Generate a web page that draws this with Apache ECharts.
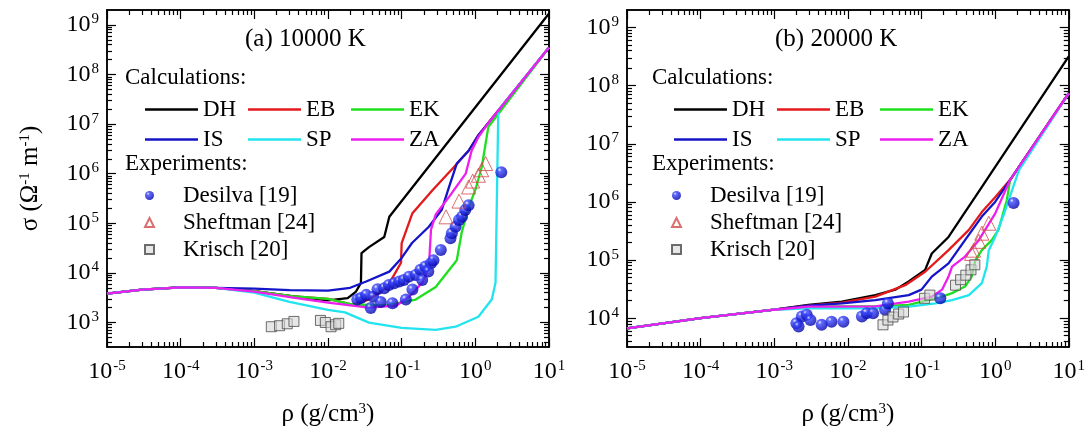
<!DOCTYPE html>
<html>
<head>
<meta charset="utf-8">
<script src="https://cdn.jsdelivr.net/npm/echarts@6/dist/echarts.min.js"></script>
<style>
html, body { margin: 0; background: #fff; }
#chart { width: 1088px; height: 436px; }
</style>
</head>
<body>
<div id="chart"></div>
<script>
const FONT = 'Liberation Serif'

// axis ranges and tick values
const xMajor = [1e-5, 1e-4, 1e-3, 1e-2, 1e-1, 1, 10]
const yMajorA = [1e3, 1e4, 1e5, 1e6, 1e7, 1e8, 1e9]
const yMajorB = [1e4, 1e5, 1e6, 1e7, 1e8, 1e9]
const minorSteps = [2, 3, 4, 5, 6, 7, 8, 9]

// (a) 10000 K — [rho, sigma]
const headA = [[1e-5, 3.8e3], [3e-5, 4.6e3], [1e-4, 5.1e3], [3e-4, 5.0e3]]
const dhA = [[1e-3, 4.3e3], [3.2e-3, 3.4e3], [1e-2, 2.8e3], [1.85e-2, 3.1e3], [2.4e-2, 4.2e3], [2.8e-2, 6.3e3],
  [2.85e-2, 2.5e4], [3.6e-2, 3.3e4], [5.8e-2, 5.3e4], [6.8e-2, 1.35e5], [10, 1.7e9]]
const ebA = [[1e-3, 4.3e3], [3.2e-3, 3.4e3], [1e-2, 3.0e3], [2.15e-2, 2.3e3], [3.6e-2, 2.9e3], [6.2e-2, 5.0e3],
  [7.9e-2, 9.1e3], [9.8e-2, 1.6e4], [0.10, 4.0e4], [0.14, 1.6e5], [0.26, 4.6e5], [0.51, 1.35e6],
  [0.81, 2.9e6], [1.1, 6.0e6], [1.5, 1.05e7], [10, 3.5e8]]
const ekA = [[1e-3, 4.3e3], [3.2e-3, 3.4e3], [1e-2, 3.0e3], [2.15e-2, 2.3e3], [6.2e-2, 2.2e3], [0.155, 2.9e3],
  [0.29, 5.2e3], [0.56, 1.8e4], [0.65, 6.3e4], [0.81, 2.1e5], [1.0, 4.7e5], [1.22, 1.35e6],
  [1.5, 8.7e6], [10, 3.5e8]]
const isA = [[1e-3, 4.8e3], [3e-3, 4.5e3], [1e-2, 4.4e3], [2e-2, 5.0e3], [3.3e-2, 6.7e3], [6.8e-2, 1.06e4],
  [0.10, 2.0e4], [0.138, 4.0e4], [0.234, 8.5e4], [0.35, 1.87e5], [0.44, 5.4e5], [0.56, 1.6e6],
  [0.81, 2.9e6], [1.1, 6.0e6], [1.5, 1.05e7], [10, 3.5e8]]
const spA = [[1e-3, 4.0e3], [3e-3, 2.6e3], [1e-2, 1.8e3], [1.7e-2, 1.6e3], [3.6e-2, 9.9e2], [0.10, 7.8e2],
  [0.29, 7.1e2], [0.54, 8.2e2], [1.1, 1.3e3], [1.67, 2.9e3], [1.88, 6.3e3], [2.05, 1.9e7], [10, 3.5e8]]
const zaA = [[1e-3, 4.2e3], [3.2e-3, 3.2e3], [1e-2, 2.5e3], [3.6e-2, 2.0e3], [8.5e-2, 2.2e3], [0.126, 3.3e3],
  [0.19, 6.3e3], [0.234, 1.3e4], [0.25, 7.4e4], [0.29, 1.5e5], [0.44, 3.4e5], [0.74, 1.0e6],
  [0.89, 2.9e6], [1.1, 5.5e6], [1.5, 1.05e7], [10, 3.5e8]]
const desilvaA = [[2.5e-2, 2.9e3], [2.8e-2, 3.1e3], [3.3e-2, 3.6e3], [4.1e-2, 3.3e3], [4.7e-2, 4.7e3],
  [5.8e-2, 4.9e3], [6.7e-2, 5.7e3], [7.9e-2, 6.2e3], [9.3e-2, 6.7e3], [0.107, 7.2e3], [0.126, 8.4e3],
  [0.155, 9.1e3], [0.18, 1.15e4], [0.21, 1.34e4], [0.25, 1.57e4], [0.27, 1.8e4], [0.34, 2.9e4],
  [0.46, 5.0e4], [0.48, 6.3e4], [0.54, 8.5e4], [0.6, 1.17e5], [0.66, 1.36e5], [0.73, 1.86e5],
  [0.81, 2.3e5], [3.8e-2, 1.95e3], [5.2e-2, 2.6e3], [7.5e-2, 2.45e3], [0.114, 2.9e3], [0.14, 4.6e3],
  [0.19, 7.2e3], [0.23, 1.07e4], [2.25, 1.07e6]]
const sheftmanA = [[1.38, 1.6e6], [1.22, 1.2e6], [1.1, 9.3e5], [0.92, 7.1e5], [0.81, 5.4e5], [0.6, 2.8e5], [0.4, 1.35e5]]
const krischA = [[1.7e-3, 8.2e2], [2.2e-3, 8.6e2], [2.8e-3, 9.4e2], [3.45e-3, 1.05e3],
  [7.9e-3, 1.1e3], [9.2e-3, 1.0e3], [1.1e-2, 8.2e2], [1.27e-2, 9.0e2], [1.4e-2, 9.6e2]]

// (b) 20000 K
const headB = [[1e-5, 6.7e3], [1e-4, 1.0e4], [1e-3, 1.4e4]]
const dhB = [[2.9e-3, 1.7e4], [8.3e-3, 1.93e4], [2.36e-2, 2.5e4], [4.4e-2, 3.1e4], [6.7e-2, 4.3e4],
  [0.112, 6.8e4], [0.138, 1.3e5], [0.233, 2.5e5], [0.355, 5.6e5], [0.54, 1.23e6], [10, 3.2e8]]
const ebB = [[2.9e-3, 1.65e4], [8.3e-3, 1.85e4], [2.36e-2, 2.35e4], [6.0e-2, 3.7e4], [0.112, 6.3e4],
  [0.233, 1.48e5], [0.44, 3.3e5], [0.66, 6.7e5], [1.0, 1.2e6], [1.6, 2.4e6], [10, 7.4e7]]
const ekB = [[2.9e-3, 1.6e4], [2.36e-2, 1.6e4], [6.7e-2, 1.7e4], [0.19, 2.35e4], [0.26, 2.7e4], [0.39, 3.5e4],
  [0.48, 5.2e4], [0.54, 1.0e5], [0.66, 1.48e5], [0.9, 2.2e5], [1.11, 3.3e5], [1.44, 1.07e6],
  [1.6, 2.4e6], [10, 7.4e7]]
const isB = [[2.9e-3, 1.65e4], [8.3e-3, 1.8e4], [2.36e-2, 2.05e4], [6.7e-2, 2.5e4], [0.10, 3.1e4],
  [0.138, 5.2e4], [0.233, 8.8e4], [0.39, 2.2e5], [0.66, 5.6e5], [1.0, 1.0e6], [1.6, 2.4e6], [10, 7.4e7]]
const spB = [[2.9e-3, 1.48e4], [2.36e-2, 1.48e4], [6.7e-2, 1.58e4], [0.155, 1.8e4], [0.26, 2.05e4],
  [0.44, 2.5e4], [0.66, 4.0e4], [0.77, 7.7e4], [0.82, 1.48e5], [1.0, 2.5e5], [1.3, 5.9e5],
  [2.1, 3.5e6], [10, 7.4e7]]
const zaB = [[2.9e-3, 1.58e4], [2.36e-2, 1.6e4], [6.7e-2, 1.93e4], [0.138, 2.35e4], [0.19, 3.1e4],
  [0.233, 5.2e4], [0.26, 7.7e4], [0.39, 1.15e5], [0.6, 2.2e5], [1.0, 6.3e5], [1.6, 2.4e6], [10, 7.4e7]]
const desilvaB = [[2.0e-3, 8.2e3], [2.37e-3, 1.07e4], [2.76e-3, 1.15e4], [2.14e-3, 7.2e3], [3.1e-3, 9.3e3],
  [4.4e-3, 7.7e3], [6.0e-3, 8.7e3], [8.7e-3, 8.7e3], [1.55e-2, 1.07e4], [1.8e-2, 1.22e4], [2.2e-2, 1.22e4],
  [3.2e-2, 1.4e4], [3.5e-2, 1.8e4], [0.18, 2.2e4], [1.78, 9.6e5]]
const sheftmanB = [[0.82, 4.3e5], [0.66, 2.9e5], [0.6, 2.1e5], [0.51, 1.48e5], [0.48, 1.3e5]]
const krischB = [[3.0e-2, 7.7e3], [3.5e-2, 9.3e3], [4.1e-2, 1.05e4], [4.9e-2, 1.18e4], [5.7e-2, 1.28e4],
  [0.11, 2.2e4], [0.13, 2.5e4], [0.29, 3.7e4], [0.34, 4.6e4], [0.40, 5.5e4], [0.47, 6.8e4], [0.53, 8.3e4]]

const calcNames = ['DH', 'EB', 'EK', 'IS', 'SP', 'ZA']
const calcColors = { DH: '#000000', EB: '#e3191c', EK: '#1ee01e', IS: '#1414c8', SP: '#22e4ee', ZA: '#ee1eee' }
const calcA = { DH: dhA, EB: ebA, EK: ekA, IS: isA, SP: spA, ZA: zaA }
const calcB = { DH: dhB, EB: ebB, EK: ekB, IS: isB, SP: spB, ZA: zaB }

const grids = [
  { left: 107, top: 10, width: 442, height: 337, yMin: 320, yMax: 2e9, yMajor: yMajorA },
  { left: 627, top: 10, width: 442, height: 337, yMin: 3200, yMax: 2e9, yMajor: yMajorB }
]

function minorValues(lo, hi, min, max) {
  const out = []
  for (let d = lo; d <= hi; d++) minorSteps.forEach(m => {
    const v = m * Math.pow(10, d)
    if (v > min && v < max) out.push(v)
  })
  return out
}
const xMinor = minorValues(-5, 0, 1e-5, 10)

const supRich = {
  b: { fontFamily: FONT, fontSize: 24, color: '#000', lineHeight: 26 },
  s: { fontFamily: FONT, fontSize: 15, color: '#000', verticalAlign: 'top', padding: [0, 0, 0, 1] }
}
function supLabel(v) {
  return '{b|10}{s|' + Math.round(Math.log10(v)) + '}'
}

const line = { show: true, onZero: false, lineStyle: { color: '#000', width: 1.5 } }

function axis(gi, pos, min, max, ticks, len, labels) {
  return {
    type: 'log', gridIndex: gi, position: pos, min: min, max: max,
    axisLine: line,
    axisTick: { show: true, inside: true, length: len, customValues: ticks, lineStyle: { color: '#000', width: 1.2 } },
    axisLabel: labels
      ? { show: true, customValues: labels, formatter: supLabel, rich: supRich, margin: pos === 'left' ? 8 : 12 }
      : { show: false },
    splitLine: { show: false },
    axisPointer: { show: false }
  }
}

const nameStyle = {
  fontFamily: FONT, fontSize: 25, color: '#000',
  rich: { s: { fontFamily: FONT, fontSize: 15, color: '#000', verticalAlign: 'top' } }
}
const xAxes = []
const yAxes = []
grids.forEach((g, gi) => {
  const yMinor = minorValues(2, 9, g.yMin, g.yMax)
  const xb = axis(gi, 'bottom', 1e-5, 10, xMajor, 9, xMajor)
  xb.name = 'ρ (g/cm{s|3})'
  xb.nameLocation = 'middle'
  xb.nameGap = 55
  xb.nameTextStyle = nameStyle
  xAxes.push(xb, axis(gi, 'bottom', 1e-5, 10, xMinor, 5, null),
    axis(gi, 'top', 1e-5, 10, xMajor, 9, null), axis(gi, 'top', 1e-5, 10, xMinor, 5, null))
  const yl = axis(gi, 'left', g.yMin, g.yMax, g.yMajor, 9, g.yMajor)
  if (gi === 0) {
    yl.name = 'σ (Ω{s|-1} m{s|-1})'
    yl.nameLocation = 'middle'
    yl.nameRotate = 90
    yl.nameGap = 64
    yl.nameTextStyle = nameStyle
  }
  yAxes.push(yl, axis(gi, 'left', g.yMin, g.yMax, yMinor, 5, null),
    axis(gi, 'right', g.yMin, g.yMax, g.yMajor, 9, null), axis(gi, 'right', g.yMin, g.yMax, yMinor, 5, null))
})

const series = []
;[calcA, calcB].forEach((calc, gi) => {
  const head = gi === 0 ? headA : headB
  calcNames.forEach(n => {
    series.push({
      name: n, type: 'line', xAxisIndex: gi * 4, yAxisIndex: gi * 4,
      data: head.concat(calc[n]), symbol: 'none', z: 3,
      lineStyle: { color: calcColors[n], width: 2.3 }, itemStyle: { color: calcColors[n] }
    })
  })
})

const sphere = {
  type: 'radial', x: 0.35, y: 0.3, r: 0.72,
  colorStops: [{ offset: 0, color: '#eef0ff' }, { offset: 0.22, color: '#3a48ff' }, { offset: 1, color: '#0000a8' }]
}
const expSets = [[desilvaA, sheftmanA, krischA], [desilvaB, sheftmanB, krischB]]
expSets.forEach((sets, gi) => {
  series.push({
    name: 'Desilva [19]', type: 'scatter', xAxisIndex: gi * 4, yAxisIndex: gi * 4, data: sets[0], z: 4,
    symbol: 'circle', symbolSize: 12, itemStyle: { color: sphere }
  }, {
    name: 'Sheftman [24]', type: 'scatter', xAxisIndex: gi * 4, yAxisIndex: gi * 4, data: sets[1], z: 4,
    symbol: 'triangle', symbolSize: 14, itemStyle: { color: 'rgba(255,255,255,0)', borderColor: '#d24a4a', borderWidth: 1 }
  }, {
    name: 'Krisch [20]', type: 'scatter', xAxisIndex: gi * 4, yAxisIndex: gi * 4, data: sets[2], z: 4,
    symbol: 'rect', symbolSize: 10, itemStyle: { color: 'rgba(215,215,215,0.75)', borderColor: '#4a4a4a', borderWidth: 1 }
  })
})

const legendText = { fontFamily: FONT, fontSize: 23, color: '#000', lineHeight: 23 }
function lineLegend(left, data) {
  return {
    left: left, top: 98, orient: 'vertical', data: data, padding: 0, itemGap: 7,
    icon: 'rect', itemWidth: 53, itemHeight: 2.3, textStyle: legendText, selectedMode: false
  }
}
function expLegend(left) {
  return {
    left: left, top: 184, orient: 'vertical', data: ['Desilva [19]', 'Sheftman [24]', 'Krisch [20]'],
    padding: 0, itemGap: 4, itemWidth: 9, itemHeight: 9, selectedMode: false,
    textStyle: Object.assign({ padding: [0, 0, 0, 24] }, legendText)
  }
}
const legends = []
const titles = []
;[[145, 125, 245, '(a) 10000 K'], [674, 652, 775, '(b) 20000 K']].forEach(([x0, hx, tx, label]) => {
  legends.push(
    lineLegend(x0, ['DH', 'IS']),
    lineLegend(x0 + 103, ['EB', 'SP']),
    lineLegend(x0 + 206, ['EK', 'ZA']),
    expLegend(hx + 19)
  )
  titles.push(
    { text: label, left: tx, top: 27, padding: 0, textStyle: { fontFamily: FONT, fontSize: 25, fontWeight: 'normal', color: '#000' } },
    { text: 'Calculations:', left: hx, top: 66, padding: 0, textStyle: { fontFamily: FONT, fontSize: 23, fontWeight: 'normal', color: '#000' } },
    { text: 'Experiments:', left: hx, top: 152, padding: 0, textStyle: { fontFamily: FONT, fontSize: 23, fontWeight: 'normal', color: '#000' } }
  )
})

const chart = echarts.init(document.getElementById('chart'))
chart.setOption({
  animation: false,
  backgroundColor: '#fff',
  title: titles,
  legend: legends,
  grid: grids.map(g => ({ left: g.left, top: g.top, width: g.width, height: g.height })),
  xAxis: xAxes,
  yAxis: yAxes,
  series: series
})
</script>
</body>
</html>
